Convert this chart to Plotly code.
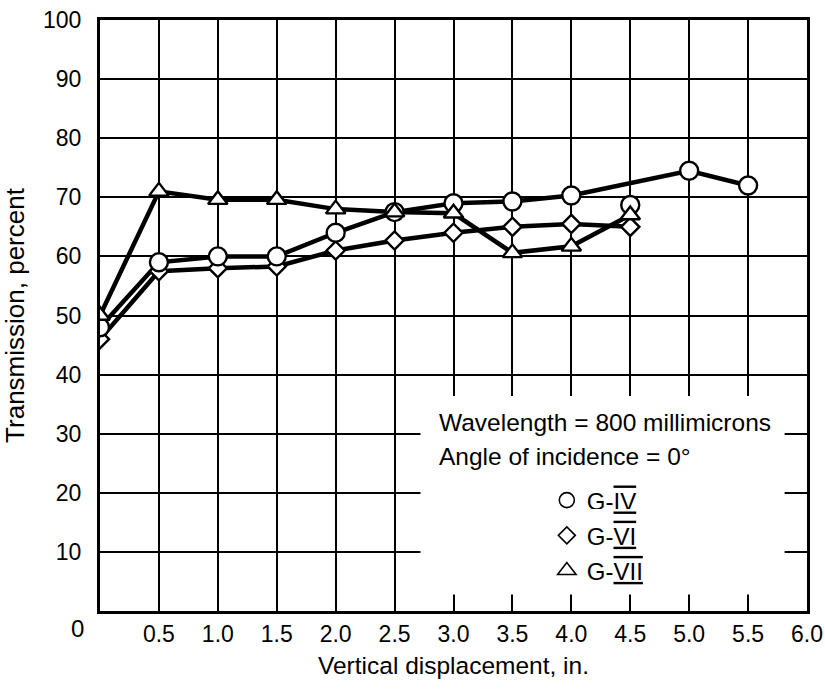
import plotly.graph_objects as go

# ---- data ----
g4_disp = [0.0, 0.5, 1.0, 1.5, 2.0, 2.5, 3.0, 3.5, 4.0, 5.0, 5.5]
g4_trans = [48.0, 59.0, 60.0, 60.0, 64.0, 67.5, 69.0, 69.3, 70.3, 74.5, 72.0]
g4_extra_disp = [4.5]
g4_extra_trans = [68.7]

g6_disp = [0.0, 0.5, 1.0, 1.5, 2.0, 2.5, 3.0, 3.5, 4.0, 4.5]
g6_trans = [46.0, 57.5, 58.0, 58.3, 61.0, 62.7, 64.0, 65.0, 65.5, 65.0]

g7_disp = [0.0, 0.5, 1.0, 1.5, 2.0, 2.5, 3.0, 3.5, 4.0, 4.5]
g7_trans = [50.0, 71.0, 69.6, 69.6, 68.0, 67.5, 67.3, 60.6, 61.7, 67.0]

x_tick_vals = [0.5, 1.0, 1.5, 2.0, 2.5, 3.0, 3.5, 4.0, 4.5, 5.0, 5.5, 6.0]
x_tick_text = ["0.5", "1.0", "1.5", "2.0", "2.5", "3.0", "3.5", "4.0", "4.5", "5.0", "5.5", "6.0"]
y_tick_vals = [10, 20, 30, 40, 50, 60, 70, 80, 90, 100]
y_tick_text = ["10", "20", "30", "40", "50", "60", "70", "80", "90", "100"]

series_names = ["G-<span style='text-decoration:overline underline'>IV</span>",
                "G-<span style='text-decoration:overline underline'>VI</span>",
                "G-<span style='text-decoration:overline underline'>VII</span>"]

FONT = "Liberation Sans, Arial, sans-serif"

fig = go.Figure()

line_style = dict(color="black", width=4.5)
# lines first
fig.add_trace(go.Scatter(x=g6_disp, y=g6_trans, mode="lines", line=line_style,
                         showlegend=False, hoverinfo="skip"))
fig.add_trace(go.Scatter(x=g4_disp, y=g4_trans, mode="lines", line=line_style,
                         showlegend=False, hoverinfo="skip"))
fig.add_trace(go.Scatter(x=g7_disp, y=g7_trans, mode="lines", line=line_style,
                         showlegend=False, hoverinfo="skip"))

mk_line = dict(color="black", width=2.4)
fig.add_trace(go.Scatter(x=g6_disp, y=g6_trans, mode="markers", showlegend=False,
                         marker=dict(symbol="diamond", size=14, color="white", line=mk_line)))
fig.add_trace(go.Scatter(x=g4_disp + g4_extra_disp, y=g4_trans + g4_extra_trans, mode="markers",
                         showlegend=False,
                         marker=dict(symbol="circle", size=18, color="white", line=mk_line)))
fig.add_trace(go.Scatter(x=g7_disp, y=g7_trans, mode="markers", showlegend=False,
                         marker=dict(symbol="triangle-up", size=17, color="white", line=mk_line)))

# legend entries
leg_line = dict(color="black", width=1.6)
for name, sym, sz, grp in [(series_names[0], "circle", 15, "a"),
                           (series_names[1], "diamond", 13, "b"),
                           (series_names[2], "triangle-up", 16, "c")]:
    fig.add_trace(go.Scatter(x=[None], y=[None], mode="markers", name=name, legendgroup=grp,
                             marker=dict(symbol=sym, size=sz, color="white", line=leg_line)))

# white box behind the legend text (hides grid)
fig.add_shape(type="rect", xref="x", yref="y", x0=2.72, x1=5.81, y0=2.8, y1=36.4,
              fillcolor="white", line=dict(width=0), layer="between")

fig.add_annotation(xref="paper", yref="paper", x=0.4767, y=0.3184, xanchor="left", yanchor="middle",
                   text="Wavelength = 800 millimicrons", showarrow=False,
                   font=dict(family=FONT, size=24.5, color="black"))
fig.add_annotation(xref="paper", yref="paper", x=0.4767, y=0.2615, xanchor="left", yanchor="middle",
                   text="Angle of incidence = 0°", showarrow=False,
                   font=dict(family=FONT, size=24.5, color="black"))
# origin label
fig.add_annotation(xref="paper", yref="paper", x=-0.0318, y=-0.0304, xanchor="center", yanchor="middle",
                   text="0", showarrow=False, font=dict(family=FONT, size=24, color="black"))

fig.update_layout(
    width=825, height=695,
    margin=dict(l=99.5, r=17.5, t=19.5, b=83.5, autoexpand=False),
    paper_bgcolor="white", plot_bgcolor="white",
    font=dict(family=FONT, size=24, color="black"),
    legend=dict(x=0.632, y=0.225, xanchor="left", yanchor="top", bgcolor="rgba(0,0,0,0)",
                font=dict(family=FONT, size=24, color="black"), tracegroupgap=1,
                itemclick=False),
    xaxis=dict(range=[0, 6], tickvals=x_tick_vals, ticktext=x_tick_text,
               showgrid=True, gridcolor="black", gridwidth=1.5, automargin=False,
               showline=True, linecolor="black", linewidth=3, mirror=True,
               ticks="", ticklen=0, ticklabelstandoff=0, zeroline=False,
               tickfont=dict(family=FONT, size=23),
               title=dict(text="Vertical displacement, in.", standoff=12,
                          font=dict(family=FONT, size=24.5))),
    yaxis=dict(range=[0, 100], tickvals=y_tick_vals, ticktext=y_tick_text,
               showgrid=True, gridcolor="black", gridwidth=1.5, automargin=False,
               showline=True, linecolor="black", linewidth=3, mirror=True,
               ticks="", ticklen=0, ticklabelstandoff=11, zeroline=False,
               tickfont=dict(family=FONT, size=23),
               title=dict(text="Transmission, percent", standoff=14,
                          font=dict(family=FONT, size=26))),
)

fig.write_html("out.html", config={"displayModeBar": False},
               post_script="document.body.style.margin='0';")
